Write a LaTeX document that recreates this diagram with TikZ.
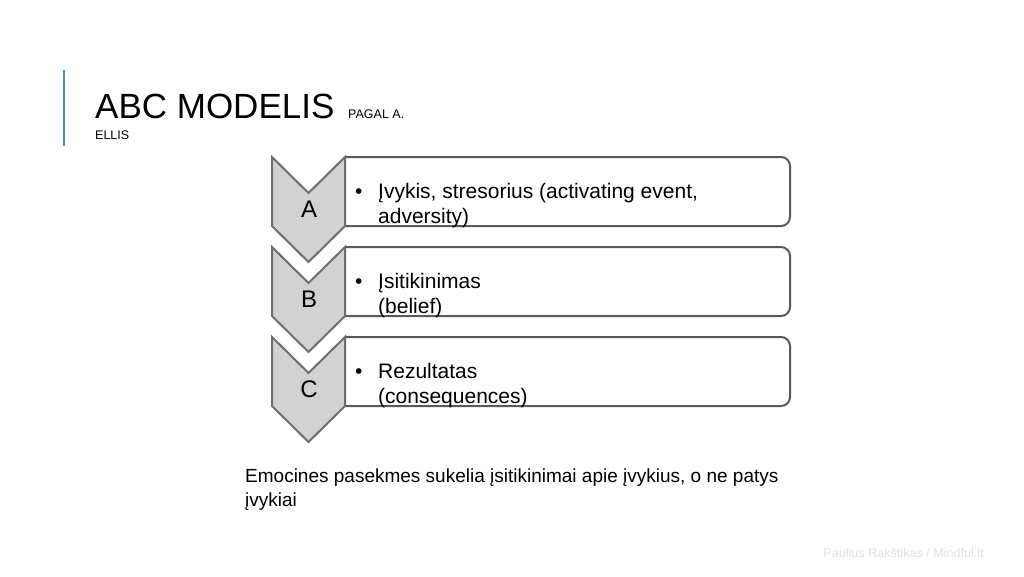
\documentclass[tikz,border=0pt]{standalone}
\usepackage{fontspec}
\setmainfont{Liberation Sans}
\usepackage{tikz}
\usetikzlibrary{positioning}
\definecolor{titleblue}{RGB}{84,141,180}
\definecolor{boxline}{RGB}{89,89,89}
\definecolor{chevfill}{RGB}{210,210,210}
\definecolor{chevline}{RGB}{110,110,110}
\tikzstyle{chevron} = [draw=chevline, fill=chevfill, line width=2pt, line join=miter]
\tikzstyle{textbox} = [draw=boxline, line width=2pt, rounded corners=9pt]

\begin{document}
\begin{tikzpicture}[x=1pt, y=-1pt,
        letter/.style={font=\fontsize{24}{28}\selectfont},
        item/.style={anchor=base west, inner sep=0pt, align=left,
            font=\fontsize{21}{25}\selectfont},
        dot/.style={anchor=base west, inner sep=0pt,
            font=\fontsize{21}{25}\selectfont}]
        \useasboundingbox (0,0) rectangle (1024,576);
        %% Title
        \draw [titleblue, line width=2pt] (64,70) -- (64,146);
        \node [anchor=base west, inner sep=0pt, font=\fontsize{35}{40}\selectfont]
            at (95,118) (Title) {ABC MODELIS};
        \node [anchor=base west, inner sep=0pt, font=\fontsize{12.5}{15}\selectfont]
            at (348,118) (Sub) {PAGAL A.};
        \node [anchor=base west, inner sep=0pt, font=\fontsize{12.5}{15}\selectfont]
            at (95,139) (SubTwo) {ELLIS};
        %% Boxes
        \draw [textbox] (345,157) -- (790,157) -- (790,226) -- (345,226);
        \draw [textbox] (345,247) -- (790,247) -- (790,316) -- (345,316);
        \draw [textbox] (345,337) -- (790,337) -- (790,406) -- (345,406);
        %% Chevrons
        \draw [chevron] (272,157) -- (308.5,193) -- (345,157) -- (345,226)
            -- (308.5,262) -- (272,226) -- cycle;
        \draw [chevron] (272,247) -- (308.5,283) -- (345,247) -- (345,316)
            -- (308.5,352) -- (272,316) -- cycle;
        \draw [chevron] (272,337) -- (308.5,373) -- (345,337) -- (345,406)
            -- (308.5,442) -- (272,406) -- cycle;
        \node [letter] at (309,209) (A) {A};
        \node [letter] at (309,299) (B) {B};
        \node [letter] at (309,389) (C) {C};
        %% Items (base = last line)
        \node [dot] at (355,198) (DotA) {•};
        \node [item] at (378,223) (ItemA) {Įvykis, stresorius (activating event,\\adversity)};
        \node [dot] at (355,288) (DotB) {•};
        \node [item] at (378,313) (ItemB) {Įsitikinimas\\(belief)};
        \node [dot] at (355,378) (DotC) {•};
        \node [item] at (378,403) (ItemC) {Rezultatas\\(consequences)};
        %% Note
        \node [anchor=base west, inner sep=0pt, align=left,
            font=\fontsize{19}{24}\selectfont] at (245,506) (Note)
            {Emocines pasekmes sukelia įsitikinimai apie įvykius, o ne patys\\įvykiai};
        \node [anchor=base east, inner sep=0pt, text=black!12,
            font=\fontsize{12.6}{14}\selectfont] at (984,557) (Footer)
            {Paulius Rakštikas / Mindful.lt};
    \end{tikzpicture}
\end{document}
